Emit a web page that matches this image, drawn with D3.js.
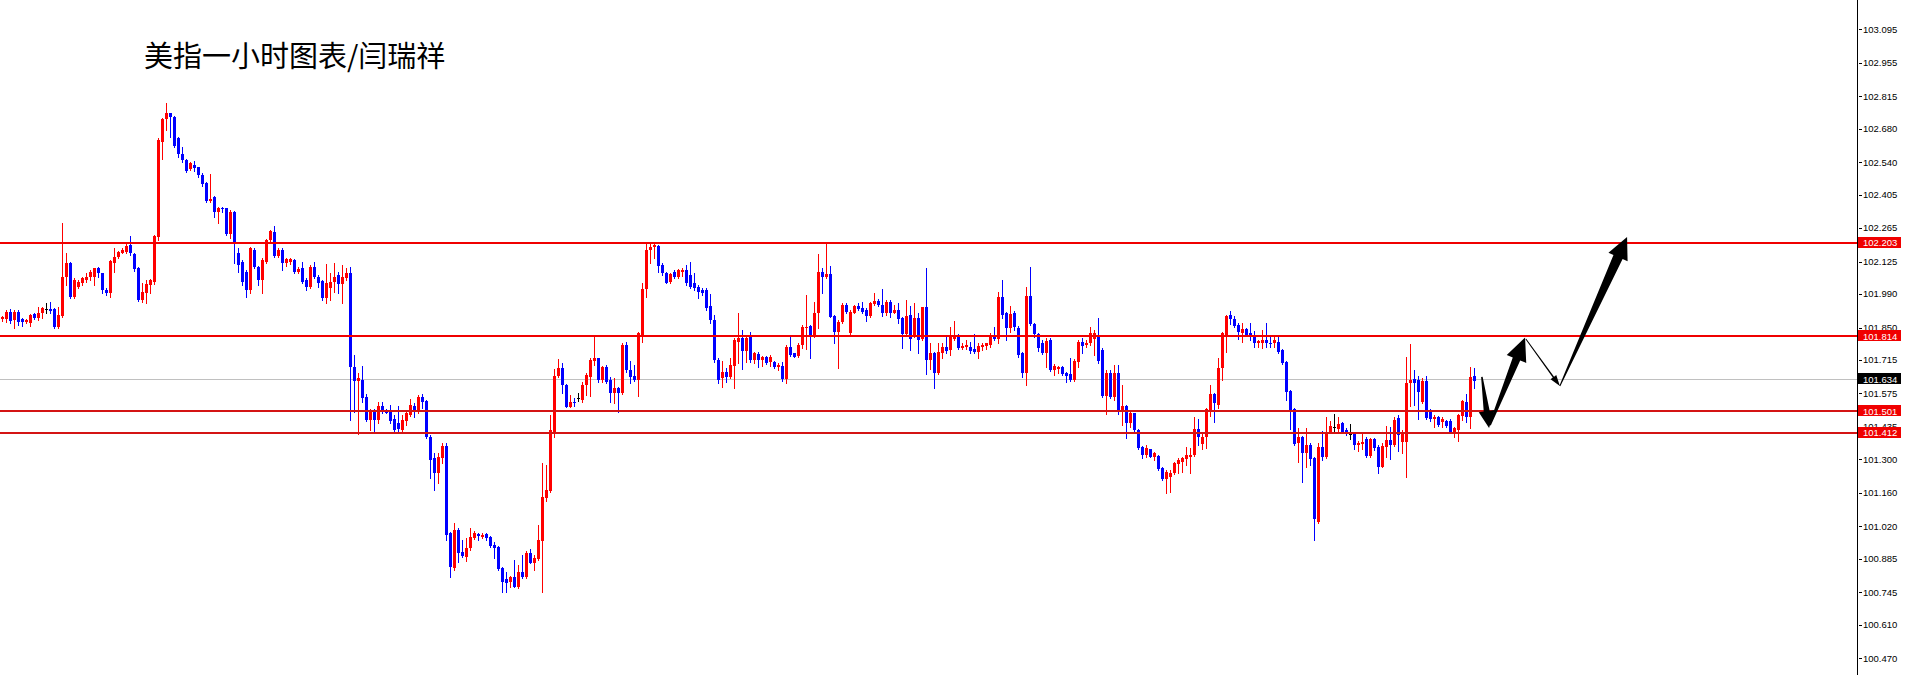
<!DOCTYPE html>
<html><head><meta charset="utf-8">
<script src="https://cdn.jsdelivr.net/npm/d3@7"></script>
<style>body{margin:0;background:#fff;overflow:hidden}svg{display:block}</style>
</head><body><svg id="c" width="1905" height="675"></svg>
<script>
const title = "美指一小时图表/闫瑞祥";

const open = [
101.884,101.884,101.916,101.882,101.916,101.884,101.873,101.870,101.905,101.889,
101.909,101.926,101.929,101.926,101.854,101.898,102.062,102.118,101.979,102.020,
102.035,102.048,102.062,102.062,102.097,102.076,102.007,101.993,102.121,102.146,
102.162,102.166,102.194,102.157,102.097,101.965,101.993,102.029,102.041,102.229,
102.626,102.719,102.744,102.727,102.640,102.574,102.549,102.510,102.528,102.519,
102.487,102.454,102.379,102.394,102.333,102.350,102.348,102.240,102.333,102.160,
102.125,102.083,102.007,102.174,102.104,102.048,102.125,102.215,102.250,102.149,
102.174,102.121,102.124,102.132,102.083,102.097,102.048,102.020,102.104,102.062,
102.044,101.972,102.014,102.041,102.069,102.032,102.055,102.079,101.687,101.628,
101.631,101.561,101.464,101.502,101.464,101.523,101.502,101.502,101.467,101.450,
101.422,101.461,101.485,101.523,101.506,101.561,101.544,101.394,101.304,101.244,
101.304,101.356,100.991,100.845,101.005,100.914,100.893,100.929,100.970,100.988,
100.977,100.988,100.974,100.942,100.935,100.845,100.799,100.789,100.810,100.768,
100.831,100.810,100.910,100.868,100.883,100.960,101.137,101.169,101.415,101.648,
101.680,101.610,101.520,101.540,101.555,101.548,101.610,101.645,101.712,101.722,
101.631,101.684,101.631,101.578,101.596,101.576,101.777,101.673,101.648,101.631,
101.819,102.010,102.174,102.187,102.190,102.111,102.079,102.041,102.083,102.062,
102.083,102.090,102.069,102.035,102.020,102.007,102.007,101.940,101.882,101.715,
101.638,101.666,101.645,101.689,101.791,101.805,101.753,101.812,101.715,101.740,
101.715,101.726,101.707,101.707,101.687,101.689,101.634,101.768,101.742,101.731,
101.777,101.847,101.856,101.812,101.912,102.083,102.059,102.073,101.898,101.833,
101.874,101.944,101.826,101.912,101.940,101.930,101.923,101.898,101.948,101.961,
101.944,101.909,101.958,101.912,101.923,101.889,101.823,101.902,101.819,101.889,
101.801,101.935,101.715,101.745,101.662,101.745,101.768,101.756,101.801,101.819,
101.763,101.770,101.770,101.759,101.749,101.770,101.773,101.777,101.809,101.801,
101.979,101.909,101.847,101.909,101.849,101.742,101.662,101.983,101.865,101.823,
101.787,101.745,101.798,101.673,101.676,101.684,101.662,101.656,101.631,101.707,
101.791,101.777,101.784,101.801,101.819,101.756,101.564,101.662,101.559,101.662,
101.503,101.523,101.453,101.492,101.422,101.350,101.318,101.342,101.311,101.314,
101.262,101.217,101.227,101.242,101.281,101.290,101.300,101.311,101.318,101.425,
101.364,101.392,101.499,101.573,101.527,101.680,101.819,101.902,101.884,101.861,
101.826,101.843,101.826,101.815,101.787,101.787,101.798,101.787,101.784,101.791,
101.756,101.707,101.586,101.509,101.367,101.392,101.328,101.360,101.304,101.039,
101.353,101.311,101.411,101.434,101.425,101.450,101.422,101.406,101.406,101.360,
101.364,101.384,101.314,101.384,101.353,101.269,101.353,101.381,101.360,101.471,
101.374,101.374,101.620,101.634,101.631,101.540,101.628,101.506,101.467,101.475,
101.457,101.461,101.461,101.411,101.422,101.481,101.540,101.478,101.648];

const high = [
101.898,101.923,101.926,101.923,101.923,101.889,101.887,101.905,101.909,101.937,
101.937,101.951,101.958,101.930,101.937,102.288,102.160,102.125,102.055,102.048,
102.062,102.076,102.090,102.097,102.101,102.079,102.014,102.132,102.181,102.169,
102.181,102.202,102.232,102.160,102.101,102.035,102.048,102.051,102.236,102.640,
102.723,102.788,102.747,102.733,102.644,102.605,102.552,102.542,102.546,102.521,
102.494,102.457,102.490,102.399,102.354,102.354,102.350,102.341,102.336,102.181,
102.132,102.090,102.185,102.181,102.107,102.139,102.218,102.257,102.275,102.181,
102.181,102.139,102.139,102.135,102.104,102.125,102.055,102.111,102.125,102.069,
102.048,102.115,102.076,102.118,102.083,102.111,102.097,102.104,101.735,101.659,
101.689,101.573,101.509,101.509,101.540,101.540,101.509,101.527,101.485,101.523,
101.485,101.499,101.551,101.536,101.568,101.571,101.548,101.402,101.325,101.325,
101.367,101.367,100.998,101.035,101.012,100.963,100.970,101.012,101.002,100.994,
100.991,100.991,100.980,100.956,100.938,100.849,100.831,100.813,100.880,100.859,
100.901,100.918,100.924,100.901,101.026,101.283,101.276,101.485,101.676,101.717,
101.703,101.613,101.568,101.555,101.576,101.624,101.659,101.722,101.812,101.724,
101.689,101.694,101.645,101.638,101.603,101.784,101.791,101.712,101.694,101.833,
102.035,102.202,102.202,102.202,102.194,102.118,102.083,102.076,102.090,102.093,
102.097,102.111,102.124,102.076,102.027,102.014,102.014,101.990,101.902,101.725,
101.712,101.680,101.725,101.805,101.909,101.840,101.812,101.833,101.749,101.749,
101.731,101.731,101.735,101.712,101.703,101.707,101.777,101.809,101.745,101.784,
101.861,101.986,101.861,101.958,102.157,102.097,102.202,102.107,101.902,101.882,
101.951,101.954,101.923,101.944,101.954,101.958,101.930,101.958,101.993,101.968,
102.010,101.965,101.965,101.944,101.951,101.893,101.965,101.940,101.954,101.912,
101.937,102.097,101.784,101.749,101.784,101.784,101.812,101.854,101.879,101.823,
101.784,101.798,101.791,101.823,101.787,101.784,101.787,101.826,101.854,101.999,
102.048,101.916,101.940,101.920,101.856,101.749,102.018,102.101,101.870,101.829,
101.798,101.805,101.805,101.698,101.689,101.689,101.666,101.722,101.717,101.798,
101.805,101.798,101.854,101.840,101.889,101.763,101.673,101.673,101.694,101.694,
101.610,101.527,101.503,101.495,101.425,101.356,101.360,101.342,101.332,101.318,
101.269,101.256,101.256,101.290,101.304,101.311,101.353,101.346,101.478,101.467,
101.409,101.513,101.610,101.578,101.722,101.833,101.902,101.920,101.898,101.868,
101.870,101.847,101.868,101.837,101.798,101.840,101.868,101.812,101.809,101.815,
101.759,101.712,101.589,101.513,101.429,101.398,101.429,101.367,101.311,101.367,
101.419,101.478,101.461,101.489,101.475,101.457,101.429,101.447,101.411,101.378,
101.406,101.392,101.388,101.388,101.360,101.367,101.439,101.434,101.478,101.485,
101.422,101.728,101.781,101.673,101.648,101.638,101.648,101.509,101.485,101.481,
101.475,101.464,101.467,101.436,101.489,101.548,101.573,101.687,101.680];

const low = [
101.879,101.874,101.868,101.847,101.861,101.856,101.868,101.856,101.887,101.882,
101.889,101.909,101.909,101.847,101.847,101.895,102.027,101.972,101.972,102.014,
102.027,102.041,102.048,102.027,102.062,101.993,101.986,101.979,102.083,102.139,
102.160,102.162,102.153,102.087,101.962,101.958,101.954,101.993,102.032,102.215,
102.553,102.674,102.646,102.605,102.561,102.542,102.500,102.508,102.505,102.480,
102.441,102.375,102.375,102.313,102.288,102.333,102.236,102.222,102.118,102.083,
102.027,101.979,101.993,102.097,102.027,101.993,102.121,102.202,102.146,102.143,
102.090,102.107,102.115,102.079,102.079,102.037,102.007,102.014,102.055,102.020,
101.965,101.954,101.965,102.000,101.993,101.954,102.048,101.464,101.499,101.406,
101.540,101.461,101.422,101.419,101.450,101.492,101.492,101.450,101.415,101.409,
101.418,101.443,101.481,101.475,101.492,101.513,101.388,101.221,101.172,101.202,
101.283,100.963,100.810,100.838,100.873,100.893,100.877,100.922,100.966,100.963,
100.970,100.963,100.935,100.887,100.838,100.747,100.747,100.768,100.766,100.762,
100.803,100.803,100.866,100.838,100.880,100.747,101.127,101.165,101.394,101.645,
101.576,101.517,101.517,101.523,101.545,101.540,101.568,101.564,101.694,101.624,
101.624,101.620,101.540,101.536,101.499,101.573,101.666,101.617,101.628,101.566,
101.791,101.979,102.118,102.139,102.083,102.069,102.035,102.035,102.055,102.055,
102.065,102.027,102.014,102.007,101.972,101.986,101.923,101.868,101.707,101.617,
101.603,101.624,101.638,101.597,101.701,101.676,101.707,101.707,101.703,101.687,
101.689,101.697,101.689,101.680,101.673,101.628,101.620,101.731,101.726,101.728,
101.763,101.759,101.724,101.809,101.847,101.995,102.055,101.893,101.787,101.680,
101.868,101.909,101.815,101.909,101.923,101.909,101.879,101.895,101.944,101.940,
101.898,101.902,101.893,101.909,101.868,101.763,101.815,101.756,101.812,101.742,
101.798,101.656,101.676,101.596,101.656,101.724,101.745,101.735,101.798,101.759,
101.759,101.759,101.745,101.742,101.722,101.756,101.759,101.770,101.798,101.784,
101.889,101.798,101.833,101.840,101.728,101.645,101.610,101.861,101.812,101.753,
101.740,101.687,101.670,101.652,101.659,101.652,101.624,101.628,101.628,101.687,
101.742,101.770,101.777,101.735,101.703,101.559,101.489,101.555,101.548,101.489,
101.443,101.388,101.436,101.415,101.342,101.304,101.311,101.308,101.297,101.256,
101.214,101.161,101.165,101.239,101.244,101.248,101.276,101.242,101.314,101.360,
101.342,101.346,101.481,101.457,101.513,101.631,101.749,101.865,101.851,101.801,
101.791,101.815,101.798,101.768,101.768,101.763,101.770,101.768,101.770,101.742,
101.698,101.548,101.425,101.360,101.290,101.207,101.269,101.276,100.963,101.033,
101.297,101.304,101.409,101.419,101.415,101.411,101.402,101.384,101.342,101.336,
101.342,101.311,101.311,101.339,101.244,101.267,101.308,101.300,101.356,101.336,
101.325,101.227,101.523,101.527,101.467,101.536,101.467,101.461,101.434,101.439,
101.436,101.434,101.411,101.394,101.378,101.464,101.457,101.429,101.596];

const close = [
101.893,101.916,101.879,101.916,101.874,101.875,101.882,101.902,101.891,101.909,
101.930,101.926,101.920,101.854,101.902,102.062,102.118,101.979,102.048,102.039,
102.055,102.062,102.083,102.097,102.076,102.007,101.993,102.129,102.146,102.164,
102.174,102.192,102.160,102.093,101.965,102.000,102.032,102.048,102.232,102.633,
102.719,102.744,102.727,102.608,102.574,102.549,102.505,102.535,102.514,102.487,
102.449,102.379,102.388,102.333,102.348,102.344,102.240,102.333,102.204,102.111,
102.041,102.007,102.181,102.104,102.048,102.132,102.215,102.254,102.149,102.174,
102.121,102.135,102.135,102.083,102.093,102.041,102.020,102.104,102.062,102.035,
101.972,102.035,102.041,102.062,102.032,102.062,102.079,101.687,101.628,101.638,
101.555,101.464,101.502,101.464,101.523,101.499,101.495,101.461,101.422,101.425,
101.464,101.492,101.527,101.506,101.561,101.540,101.394,101.297,101.244,101.311,
101.356,100.984,100.849,101.005,100.908,100.896,100.929,100.977,100.991,100.980,
100.984,100.970,100.938,100.929,100.841,100.789,100.782,100.810,100.768,100.831,
100.810,100.908,100.868,100.889,100.963,101.144,101.172,101.422,101.648,101.680,
101.610,101.520,101.540,101.534,101.555,101.610,101.652,101.715,101.724,101.631,
101.684,101.624,101.578,101.596,101.576,101.777,101.673,101.645,101.631,101.826,
102.010,102.174,102.187,102.194,102.107,102.076,102.037,102.072,102.062,102.090,
102.090,102.035,102.020,102.014,102.000,101.993,101.930,101.882,101.715,101.631,
101.666,101.645,101.694,101.798,101.805,101.753,101.805,101.715,101.742,101.715,
101.726,101.703,101.728,101.684,101.694,101.634,101.768,101.735,101.728,101.777,
101.851,101.854,101.812,101.912,102.083,102.062,102.073,101.895,101.833,101.874,
101.944,101.916,101.916,101.940,101.926,101.916,101.898,101.954,101.961,101.944,
101.909,101.958,101.912,101.923,101.884,101.823,101.898,101.801,101.889,101.798,
101.935,101.715,101.745,101.662,101.749,101.768,101.753,101.809,101.812,101.763,
101.773,101.777,101.753,101.749,101.773,101.777,101.784,101.812,101.801,101.979,
101.902,101.847,101.906,101.851,101.735,101.662,101.983,101.865,101.823,101.763,
101.745,101.795,101.673,101.689,101.684,101.656,101.648,101.631,101.712,101.791,
101.773,101.787,101.826,101.826,101.712,101.564,101.662,101.559,101.662,101.503,
101.523,101.453,101.492,101.422,101.346,101.318,101.346,101.311,101.325,101.258,
101.217,101.248,101.244,101.283,101.297,101.304,101.318,101.318,101.425,101.394,
101.394,101.509,101.573,101.534,101.680,101.828,101.898,101.884,101.856,101.833,
101.843,101.819,101.812,101.787,101.795,101.798,101.784,101.784,101.798,101.749,
101.703,101.582,101.506,101.364,101.392,101.328,101.360,101.300,101.050,101.353,
101.311,101.411,101.439,101.434,101.447,101.415,101.409,101.406,101.360,101.369,
101.374,101.314,101.384,101.346,101.269,101.356,101.381,101.360,101.464,101.402,
101.415,101.620,101.631,101.620,101.582,101.628,101.471,101.467,101.475,101.443,
101.467,101.439,101.415,101.429,101.485,101.545,101.478,101.645,101.628];

const tickLabels = ["103.095","102.955","102.815","102.680","102.540","102.405","102.265",
  "102.125","101.990","101.850","101.715","101.575","101.435","101.300","101.160",
  "101.020","100.885","100.745","100.610","100.470"];

const levels = [102.203, 101.814, 101.501, 101.412];
const lastPrice = 101.634;

// hand-drawn arrows: [bar index, price] start -> end
const arrowStart = [[369.8,101.644],[371.8,101.443],[380.8,101.802],[389.3,101.606]];
const arrowEnd   = [[371.6,101.431],[380.6,101.808],[389.3,101.606],[406.1,102.228]];

// ---------- drawing ----------
const W = 1905, H = 675, axisX = 1857;
const svg = d3.select("#c");
const n = open.length;
const x = d3.scaleLinear().domain([0, n - 1]).range([2.67, 2.67 + 4 * (n - 1)]);
const y = d3.scaleLinear().domain([100.400, 103.217]).range([H, 0]);

svg.append("rect").attr("width", W).attr("height", H).attr("fill", "#fff");

// bid line
svg.append("line").attr("x1", 0).attr("x2", axisX)
  .attr("y1", Math.round(y(lastPrice)) + 0.5).attr("y2", Math.round(y(lastPrice)) + 0.5)
  .attr("stroke", "#c0c0c0").attr("stroke-width", 1);

const UP = "#ff0000", DN = "#0000ff", DOJI = "#000000";
const colorOf = i => close[i] > open[i] ? UP : (close[i] < open[i] ? DN : DOJI);
const idx = d3.range(n);
const g = svg.append("g").attr("shape-rendering", "crispEdges");

g.selectAll("line.w").data(idx).join("line").attr("class", "w")
  .attr("x1", i => Math.floor(x(i)) + 0.5).attr("x2", i => Math.floor(x(i)) + 0.5)
  .attr("y1", i => Math.round(y(high[i]))).attr("y2", i => Math.round(y(low[i])) + 1)
  .attr("stroke", colorOf).attr("stroke-width", 1);

g.selectAll("rect.b").data(idx).join("rect").attr("class", "b")
  .attr("x", i => Math.floor(x(i)) - 1).attr("width", 3)
  .attr("y", i => Math.round(y(Math.max(open[i], close[i]))))
  .attr("height", i => Math.max(1, Math.round(y(Math.min(open[i], close[i]))) - Math.round(y(Math.max(open[i], close[i])))))
  .attr("fill", colorOf);

// level lines
svg.append("g").attr("shape-rendering", "crispEdges").selectAll("line").data(levels).join("line")
  .attr("x1", 0).attr("x2", axisX)
  .attr("y1", d => Math.round(y(d))).attr("y2", d => Math.round(y(d)))
  .attr("stroke", (d, i) => i < 2 ? "#f00000" : "#d41414").attr("stroke-width", 2);

// arrows
function arrowPoly(p0, p1, w0, w1, hl, hw) {
  const dx = p1[0] - p0[0], dy = p1[1] - p0[1], L = Math.hypot(dx, dy);
  const ux = dx / L, uy = dy / L, nx = -uy, ny = ux;
  const bx = p1[0] - ux * hl, by = p1[1] - uy * hl;
  const pts = [
    [p0[0] + nx * w0 / 2, p0[1] + ny * w0 / 2],
    [bx + nx * w1 / 2, by + ny * w1 / 2],
    [bx + nx * hw / 2, by + ny * hw / 2],
    [p1[0], p1[1]],
    [bx - nx * hw / 2, by - ny * hw / 2],
    [bx - nx * w1 / 2, by - ny * w1 / 2],
    [p0[0] - nx * w0 / 2, p0[1] - ny * w0 / 2]];
  return pts.map(p => p.join(",")).join(" ");
}
const arrowStyle = [[1.5, 6, 17, 16], [2, 8, 23, 21], [1, 1.6, 11, 7], [1, 10, 22, 21]];
svg.append("g").selectAll("polygon").data(d3.range(arrowStart.length)).join("polygon")
  .attr("points", i => {
    const s = arrowStyle[i];
    return arrowPoly([x(arrowStart[i][0]), y(arrowStart[i][1])], [x(arrowEnd[i][0]), y(arrowEnd[i][1])], s[0], s[1], s[2], s[3]);
  })
  .attr("fill", "#000");

// right price axis
const ax = svg.append("g");
ax.append("rect").attr("x", axisX).attr("y", 0).attr("width", W - axisX).attr("height", H).attr("fill", "#fff");
ax.append("line").attr("x1", axisX + 0.5).attr("x2", axisX + 0.5).attr("y1", 0).attr("y2", H)
  .attr("stroke", "#000").attr("stroke-width", 1);
ax.selectAll("line.t").data(tickLabels).join("line").attr("class", "t")
  .attr("x1", axisX + 2).attr("x2", axisX + 5)
  .attr("y1", d => Math.round(y(+d)) + 0.5).attr("y2", d => Math.round(y(+d)) + 0.5)
  .attr("stroke", "#000").attr("stroke-width", 1);
ax.selectAll("text.t").data(tickLabels).join("text").attr("class", "t")
  .attr("x", axisX + 6).attr("y", d => y(+d)).attr("dy", "0.35em")
  .attr("font-family", "Liberation Sans, Arial, sans-serif").attr("font-size", 9.5)
  .attr("fill", "#000").text(d => d);

const tags = levels.map(v => ({ v, bg: "#f00000" })).concat([{ v: lastPrice, bg: "#000" }]);
const tg = ax.selectAll("g.tag").data(tags).join("g").attr("class", "tag");
tg.append("rect").attr("x", axisX + 1).attr("width", 43)
  .attr("y", d => Math.round(y(d.v)) - 6).attr("height", 11).attr("fill", d => d.bg);
tg.append("text").attr("x", axisX + 6).attr("y", d => y(d.v)).attr("dy", "0.35em")
  .attr("font-family", "Liberation Sans, Arial, sans-serif").attr("font-size", 9.5)
  .attr("fill", "#fff").text(d => d.v.toFixed(3));

// title
svg.append("text").attr("x", 144).attr("y", 67)
  .attr("font-family", "Noto Sans CJK SC, sans-serif").attr("font-size", 29)
  .attr("fill", "#000").text(title);
</script></body></html>
